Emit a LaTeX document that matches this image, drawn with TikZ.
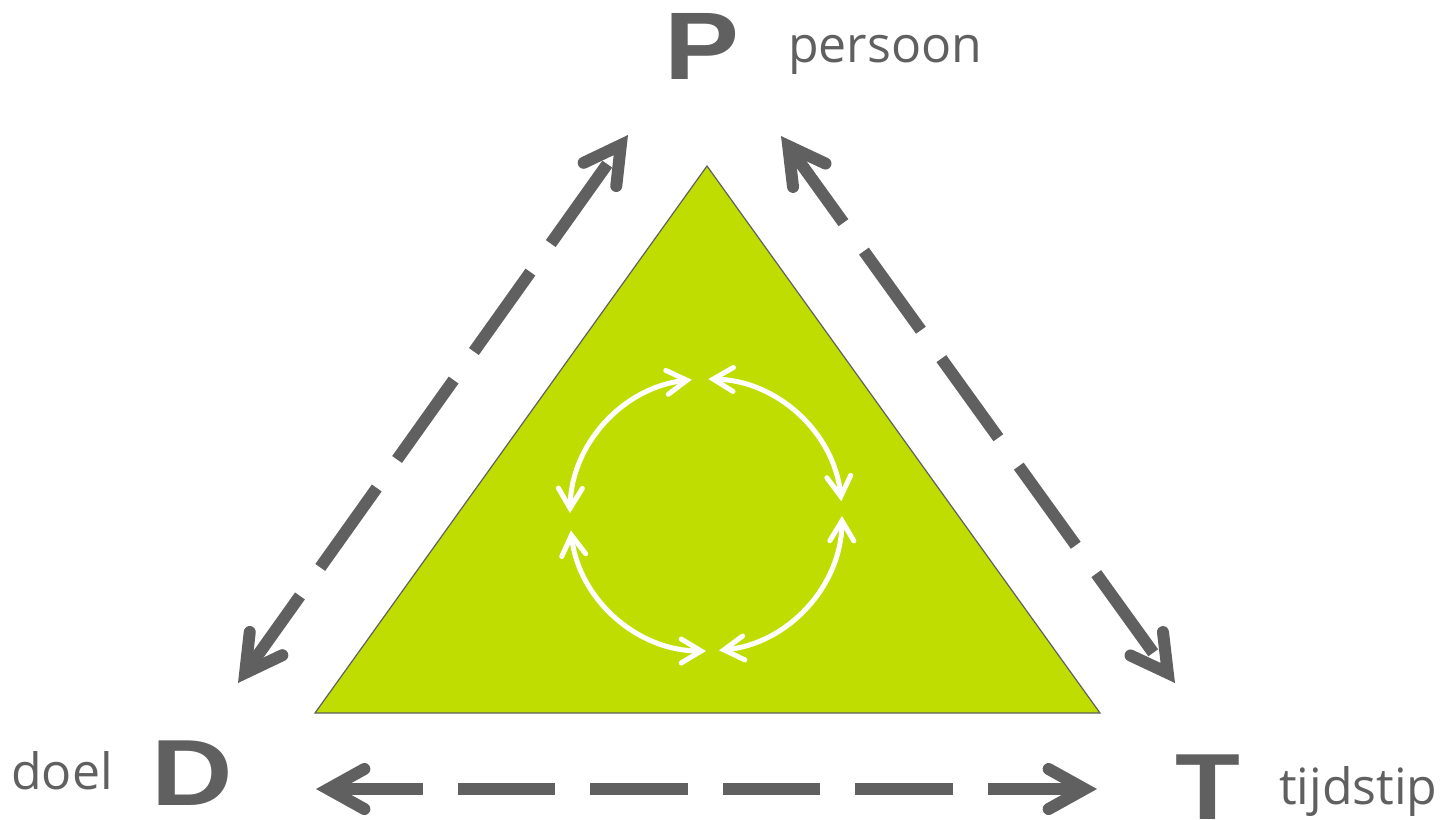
\documentclass[tikz,border=0pt]{standalone}
\usepackage{fontspec}
\usepackage{graphicx}
\setmainfont{Open Sans}
\newfontfamily\bigfont{Liberation Sans}
\usetikzlibrary{arrows.meta,calc}
\definecolor{dgray}{HTML}{606060}
\definecolor{lime}{HTML}{BFDD00}
\begin{document}
\begin{tikzpicture}[x=1bp,y=-1bp,
  bigletter/.style={inner sep=0pt, text=dgray, text depth=0pt, font=\bigfont\bfseries\fontsize{96bp}{96bp}\selectfont, anchor=base},
  word/.style={inner sep=0pt, text=dgray, font=\fontsize{50bp}{50bp}\selectfont, anchor=base west},
  graytip/.tip={Straight Barb[length=36bp,width=40bp,line cap=round,line join=miter]},
  link/.style={draw=dgray, line width=12bp, line cap=butt, dash pattern=on 97.5bp off 35bp, dash phase=9bp, graytip-graytip},
  whitetip/.tip={Straight Barb[length=20bp,width=24bp,line cap=round,line join=miter]},
  cyclearc/.style={draw=white, line width=5bp, whitetip-whitetip},
  tri/.style={fill=lime, draw=dgray, line width=1.2bp, line join=miter}]
\useasboundingbox (0,0) rectangle (1453,819);

% triangle
\coordinate (apex) at (707,166);
\coordinate (bl) at (315,713);
\coordinate (br) at (1100,713);
\path[tri] (apex) -- (br) -- (bl) -- cycle;

% letters and words
\node[bigletter] (P) at (702,79) {\scalebox{1.17}[1]{P}};
\node[bigletter, font=\bigfont\bfseries\fontsize{94bp}{94bp}\selectfont] (D) at (192,805) {\scalebox{1.2}[1]{D}};
\node[bigletter, font=\bigfont\bfseries\fontsize{94bp}{94bp}\selectfont] (T) at (1208,819) {\scalebox{1.13}[1]{T}};
\node[word] (persoon) at (788,63) {persoon};
\node[word] (doel) at (11,789) {doel};
\node[word] (tijdstip) at (1279,804) {tijdstip};

% arrow ends
\coordinate (PD) at (628,135);
\coordinate (DP) at (238,683);
\coordinate (PT) at (781,136);
\coordinate (TP) at (1175,683);
\coordinate (DT) at (316,789);
\coordinate (TD) at (1097,789);

\draw[link] (DP) -- (PD);
\draw[link] (PT) -- (TP);
\draw[link] (DT) -- (TD);

% inner cycle
\coordinate (c) at (706,515);
\draw[cyclearc] ([shift={(90:136)}]c) arc[start angle=90, end angle=173.5, radius=136];
\draw[cyclearc] ([shift={(180.8:136)}]c) arc[start angle=180.8, end angle=264, radius=136];
\draw[cyclearc] ([shift={(271:136)}]c) arc[start angle=271, end angle=354.2, radius=136];
\draw[cyclearc] ([shift={(0.4:136)}]c) arc[start angle=0.4, end angle=84.5, radius=136];
\end{tikzpicture}
\end{document}
